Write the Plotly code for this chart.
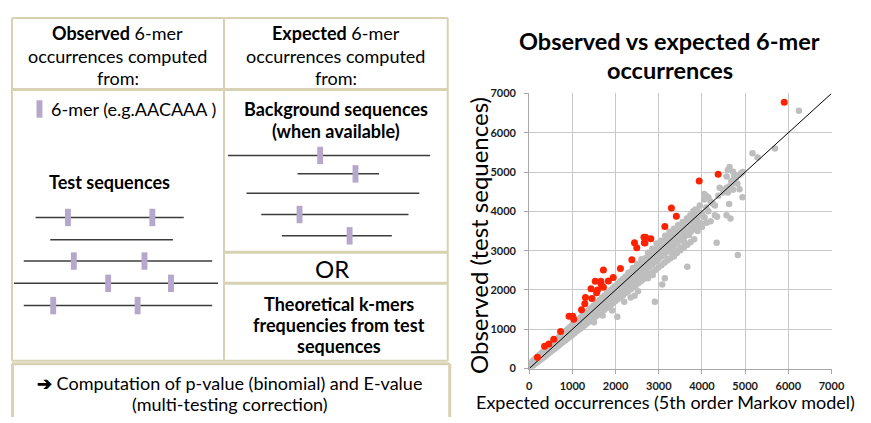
import plotly.graph_objects as go

# ---------------- data ----------------
# dense band of grey 6-mers: expected x -> several observed y values
band_x = [40, 90, 140, 190, 240, 290, 340, 390, 440, 490, 540, 590, 640, 690, 740, 790,
          840, 890, 940, 990, 1040, 1090, 1140, 1190, 1240, 1290, 1340, 1390, 1440, 1490,
          1540, 1590, 1640, 1690, 1740, 1790, 1840, 1890, 1940, 1990, 2050, 2110, 2170,
          2230, 2290, 2350, 2410, 2470, 2530, 2590, 2650, 2710, 2780, 2850, 2920, 2990,
          3060, 3130, 3200, 3270, 3340, 3420, 3500, 3580, 3660, 3740, 3820, 3900]
band_y = [
    [30, 60, 100, 150], [75, 110, 150, 200], [120, 150, 190, 250], [160, 200, 230, 300],
    [205, 240, 280, 350], [250, 290, 330, 400], [290, 330, 380, 450], [335, 370, 420, 500],
    [380, 420, 470, 550], [420, 460, 520, 600], [465, 510, 570, 650], [505, 550, 620, 700],
    [550, 590, 670, 750, 610], [595, 640, 720, 800, 660], [635, 690, 770, 850, 710],
    [680, 730, 820, 900, 760], [720, 780, 870, 950, 800], [765, 820, 920, 1000, 850],
    [810, 870, 970, 1050, 900], [850, 920, 1020, 1100, 950], [895, 960, 1070, 1150, 1000],
    [940, 1010, 1120, 1200, 1040], [980, 1060, 1170, 1250, 1090],
    [1020, 1100, 1220, 1300, 1140], [1065, 1150, 1270, 1350, 1190],
    [1110, 1200, 1320, 1400, 1240], [1150, 1240, 1370, 1450, 1290],
    [1195, 1290, 1420, 1500, 1340], [1240, 1340, 1470, 1550, 1390],
    [1280, 1380, 1520, 1600, 1430], [1325, 1430, 1570, 1650, 1480],
    [1370, 1480, 1620, 1700, 1530], [1410, 1520, 1670, 1750, 1580],
    [1455, 1570, 1720, 1800, 1630], [1495, 1620, 1770, 1850, 1670],
    [1540, 1660, 1820, 1900, 1720], [1580, 1710, 1870, 1950, 1770],
    [1625, 1760, 1920, 2000, 1820], [1670, 1800, 1970, 2050, 1870],
    [1710, 1850, 2020, 2100, 1910], [1765, 1910, 2080, 2160, 1970],
    [1815, 1960, 2140, 2220, 2030], [1865, 2020, 2200, 2280, 2080],
    [1920, 2070, 2260, 2340, 2140], [1970, 2130, 2320, 2400, 2200],
    [2020, 2190, 2380, 2460, 2260], [2070, 2240, 2440, 2520, 2320],
    [2125, 2300, 2500, 2580, 2370], [2175, 2350, 2560, 2640, 2430],
    [2230, 2410, 2620, 2700, 2490], [2280, 2460, 2680, 2760, 2540],
    [2330, 2520, 2740, 2820, 2600], [2390, 2590, 2810, 2890, 2670],
    [2450, 2650, 2880, 2960, 2740], [2510, 2720, 2950, 3030, 2800],
    [2570, 2780, 3020, 3100, 2870], [2630, 2850, 3090, 3170, 2940],
    [2690, 2910, 3160, 3240, 3000], [2750, 2980, 3230, 3310, 3070],
    [2810, 3040, 3300, 3380, 3140], [2870, 3110, 3370, 3450, 3210],
    [2940, 3180, 3450, 3530, 3280], [3010, 3260, 3530, 3610, 3360],
    [3080, 3330, 3610, 3690, 3440], [3150, 3400, 3690, 3770, 3510],
    [3220, 3480, 3770, 3850, 3590], [3290, 3550, 3850, 3930, 3670],
    [3590, 3720, 3950, 4010]]

# scattered grey 6-mers (expected, observed)
grey_extra = [
    (2300, 2440), (2400, 2560), (2500, 2660), (2600, 2780), (2750, 2950), (2850, 3050),
    (2950, 3180), (3050, 3250), (3150, 3380), (3250, 3480), (3350, 3560), (3450, 3650),
    (3550, 3720), (3650, 3820), (3730, 3900), (3800, 4000),
    (3850, 4050), (3950, 4150), (4050, 4300), (4100, 4400), (4150, 4350), (4200, 4250),
    (4250, 4200), (4000, 3950), (4100, 4100), (4050, 4440), (3900, 3850), (4150, 4000),
    (4300, 4150), (4200, 3750), (4350, 3860), (4110, 3710), (4300, 3900), (3980, 3700),
    (3850, 3750), (4060, 3850),
    (4410, 4600), (4490, 4480), (4380, 4400), (4570, 4600), (4640, 4640), (4680, 4770),
    (4570, 4890), (4600, 5050), (4640, 5130), (4720, 5010), (4790, 4850), (4870, 4930),
    (4910, 4970), (4720, 4550), (4870, 4560), (4940, 4360), (4630, 4190), (4570, 3900),
    (4660, 3820), (4340, 3200), (4830, 2890), (4500, 4550), (4700, 4700), (4750, 4900),
    (4950, 5000), (4600, 4480), (4820, 4700),
    (5170, 5480), (5290, 5370), (5690, 5600), (6245, 6560),
    (3660, 2590), (3140, 2300), (3080, 2140), (2910, 1700), (2040, 1320), (3430, 3000),
    (3500, 3080), (3200, 2790), (2520, 1970), (2350, 1810), (2440, 1850), (2750, 2300),
    (2860, 2380), (1920, 1480), (2900, 2750), (3050, 2920), (3300, 2950), (3600, 3200),
    (2200, 1700), (1700, 1350), (1500, 1180), (3700, 3400), (3900, 3500), (4000, 3600),
    (3350, 2850)]

# significantly over-represented 6-mers (red)
red_x = [190, 356, 454, 568, 727, 923, 1007, 1030, 1211, 1287, 1302, 1431, 1453, 1529,
         1560, 1582, 1658, 1665, 1718, 1718, 1832, 1945, 2112, 2377, 2438, 2491, 2657,
         2695, 2665, 2680, 2816, 3141, 3293, 3407, 3936, 4375, 5905]
red_y = [290, 567, 625, 748, 945, 1331, 1331, 1257, 1495, 1652, 1808, 2030, 1783, 2219,
         1931, 1997, 2219, 2153, 2071, 2506, 2227, 2317, 2547, 2769, 3204, 3073, 3344,
         3344, 3204, 3196, 3303, 3615, 4084, 3878, 4774, 4947, 6779]

diag = [0, 7000]
tick_vals = [0, 1000, 2000, 3000, 4000, 5000, 6000, 7000]

grey_x, grey_y = [], []
for xv, ys in zip(band_x, band_y):
    for yv in ys:
        grey_x.append(xv)
        grey_y.append(yv)
for xv, yv in grey_extra:
    grey_x.append(xv)
    grey_y.append(yv)

# ---------------- figure ----------------
# The page body keeps its default 8px margin, so the figure is drawn 8px in;
# everything below is expressed in window pixel coordinates.
VW, VH = 871, 423          # window size
OFF = 8                    # body margin
W, H = VW - OFF, VH - OFF  # figure size
PL, PR, PT, PB = 536, 844, 89, 373   # plot area in window pixels

fig = go.Figure()
# invisible trace for the diagram coordinate system (first, so it sits underneath)
fig.add_trace(go.Scatter(x=[OFF + 1], y=[OFF + 1], mode="markers",
                         marker=dict(opacity=0), showlegend=False, hoverinfo="skip",
                         xaxis="x2", yaxis="y2"))
fig.add_trace(go.Scatter(x=grey_x, y=grey_y, mode="markers",
                         marker=dict(size=6.5, color="#bebebe"), hoverinfo="skip",
                         showlegend=False, xaxis="x", yaxis="y"))
fig.add_trace(go.Scatter(x=diag, y=diag, mode="lines", line=dict(color="black", width=1),
                         showlegend=False, xaxis="x", yaxis="y"))
fig.add_trace(go.Scatter(x=red_x, y=red_y, mode="markers",
                         marker=dict(size=7, color="#ff2200"), showlegend=False,
                         xaxis="x", yaxis="y"))

TAN = "#d8d2b2"
SEQ = "#3c3c3c"
MARK = "#b5a8cc"
shapes = []


def line(x0, y0, x1, y1, color, width):
    shapes.append(dict(type="line", xref="x2", yref="y2", x0=x0, y0=y0, x1=x1, y1=y1,
                       line=dict(color=color, width=width), layer="above"))


def mark(x, y):
    shapes.append(dict(type="rect", xref="x2", yref="y2", x0=x - 3, x1=x + 3,
                       y0=y - 9, y1=y + 9, fillcolor=MARK, line=dict(width=0),
                       layer="above"))


# boxes
line(9, 11, 453, 11, TAN, 2)
line(9, 11, 9, 365, TAN, 2)
line(453, 11, 453, 365, TAN, 2)
line(9, 365, 453, 365, TAN, 2)
line(225, 11, 225, 365, TAN, 2)
line(9, 85, 453, 85, TAN, 3)
line(225, 253, 453, 253, TAN, 3)
line(225, 285, 453, 285, TAN, 3)
line(9, 368, 455, 368, TAN, 3)
line(9.5, 368, 9.5, 430, TAN, 3)
line(455, 368, 455, 430, TAN, 3)

seq_left = [(33, 184, 217, [66, 152]), (48, 173, 240, []), (21, 213, 262, [72, 144]),
            (11, 219, 285, [107, 171]), (21, 213, 308, [51, 137])]
seq_right = [(229, 435, 153, [323]), (300, 383, 172, [359]), (248, 424, 192, []),
             (263, 413, 214, [302]), (284, 396, 236, [353])]
for x0, x1, y, ms in seq_left + seq_right:
    line(x0, y, x1, y, SEQ, 1.5)
for x0, x1, y, ms in seq_left + seq_right:
    for m in ms:
        mark(m, y)
mark(37, 105)

FONT = "Lato"
anns = []


def ann(x, y, text, size, xanchor="center", family=FONT, ref="x2"):
    anns.append(dict(x=x, y=y, xref=ref, yref="y2", text=text, showarrow=False,
                     xanchor=xanchor, yanchor="middle",
                     font=dict(family=family, size=size, color="black")))


FS = 18
ann(117, 27, "<b>Observed</b> 6-mer", FS)
ann(117, 50, "occurrences computed", FS)
ann(117, 73, "from:", FS)
ann(339, 27, "<b>Expected</b> 6-mer", FS)
ann(339, 50, "occurrences computed", FS)
ann(339, 73, "from:", FS)
ann(47, 105, "6-mer (e.g.AACAAA )", FS, xanchor="left")
ann(339, 105, "<b>Background sequences</b>", FS)
ann(339, 128, "<b>(when available)</b>", FS)
ann(108, 180, "<b>Test sequences</b>", FS)
ann(335, 270, "OR", 24)
ann(342, 306, "<b>Theoretical k-mers</b>", FS)
ann(342, 328, "<b>frequencies from test</b>", FS)
ann(342, 350, "<b>sequences</b>", FS)
ann(231, 388, "<b>➔</b> Computation of p-value (binomial) and E-value", FS)
ann(231, 410, "(multi-testing correction)", FS)

# chart title and axis titles
ann(679, 35, "<b>Observed vs expected 6-mer</b>", 23.5)
ann(679, 65, "<b>occurrences</b>", 23.5)
ann(675, 407, "Expected occurrences (5th order Markov model)", FS)
anns.append(dict(x=485, y=236, xref="x2", yref="y2", text="Observed (test sequences)",
                 showarrow=False, textangle=-90, xanchor="center", yanchor="middle",
                 font=dict(family=FONT, size=24, color="black")))

axis_common = dict(range=[0, 7000], tickvals=tick_vals, showgrid=True,
                   gridcolor="#c8c8c8", gridwidth=1, zeroline=False, showline=True,
                   linecolor="#a8a8a8", linewidth=1, ticks="outside", ticklen=4,
                   tickcolor="#a8a8a8",
                   tickfont=dict(family=FONT, size=11, color="#1a1a1a", weight="bold"))

fig.update_layout(
    width=W, height=H, autosize=False,
    margin=dict(l=0, r=0, t=0, b=0),
    paper_bgcolor="white", plot_bgcolor="rgba(0,0,0,0)",
    xaxis=dict(domain=[(PL - OFF) / W, (PR - OFF) / W], anchor="y",
               ticklabelstandoff=3, **axis_common),
    yaxis=dict(domain=[(VH - PB) / H, (VH - PT) / H], anchor="x",
               ticklabelstandoff=6, **axis_common),
    xaxis2=dict(domain=[0, 1], range=[OFF, VW], visible=False, anchor="y2",
                fixedrange=True),
    yaxis2=dict(domain=[0, 1], range=[VH, OFF], visible=False, anchor="x2",
                fixedrange=True),
    shapes=shapes, annotations=anns, showlegend=False,
)

fig.write_html("out.html", config={"displayModeBar": False})
